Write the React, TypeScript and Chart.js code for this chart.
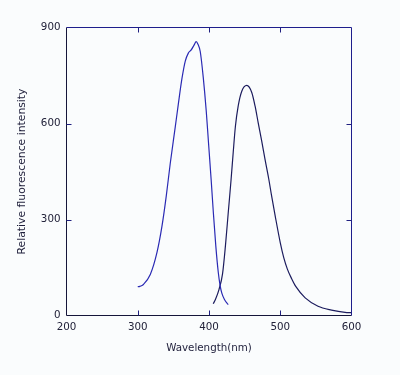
import React, { useEffect, useRef } from "react";
import { Chart, registerables } from "chart.js";

Chart.register(...registerables);

// Excitation spectrum (blue curve)
const excitationWavelengths = [300, 303, 308, 317.6, 327, 334, 340, 345.6, 352.7, 356.9, 362, 366.7, 371, 375, 379, 382, 384.5, 387.7, 391.9, 396.1, 399.3, 403, 406, 409.6, 413, 415.5, 418, 421.7, 427];
const excitationValues = [90, 91, 97, 128, 197, 279, 373, 475, 590, 660, 740, 795, 820, 830, 845, 856, 848, 825, 745, 640, 540, 425, 325, 216, 135, 95, 70, 50, 34];

// Emission spectrum (dark curve)
const emissionWavelengths = [406, 409, 414, 419, 423, 427, 431, 434, 437, 441, 446, 453, 460, 464.7, 469, 474, 478.7, 484, 488, 493, 500, 505, 510, 516, 522, 535, 553, 572, 591, 600];
const emissionValues = [37, 50, 81, 130, 216, 321, 425, 510, 590, 655, 701, 719, 697, 654, 603, 545, 487, 425, 372, 310, 228, 180, 145, 115, 90, 55, 29, 17, 10, 9];

const xTicks = [200, 300, 400, 500, 600];
const yTicks = [0, 300, 600, 900];

const xTitle = "Wavelength(nm)";
const yTitle = "Relative fluorescence intensity";

const frameAndTicks = {
  id: "frameAndTicks",
  beforeDraw(chart: any) {
    const { ctx, width, height } = chart;
    ctx.save();
    ctx.fillStyle = "#fafcfd";
    ctx.fillRect(0, 0, width, height);
    ctx.restore();
  },
  afterDatasetsDraw(chart: any) {
    const { ctx, chartArea, scales } = chart;
    const { left, right, top, bottom } = chartArea;
    const len = 5;
    ctx.save();
    ctx.lineWidth = 1;
    // left & bottom (dark)
    ctx.strokeStyle = "#15153a";
    ctx.beginPath();
    ctx.moveTo(left, top);
    ctx.lineTo(left, bottom);
    ctx.lineTo(right, bottom);
    ctx.stroke();
    // top & right (blue-ish)
    ctx.strokeStyle = "#1e1e8c";
    ctx.beginPath();
    ctx.moveTo(left, top);
    ctx.lineTo(right, top);
    ctx.lineTo(right, bottom);
    ctx.stroke();
    // inner tick marks
    ctx.strokeStyle = "#202080";
    ctx.beginPath();
    xTicks.slice(1, -1).forEach((v) => {
      const px = Math.round(scales.x.getPixelForValue(v)) + 0.5;
      ctx.moveTo(px, bottom);
      ctx.lineTo(px, bottom - len);
      ctx.moveTo(px, top);
      ctx.lineTo(px, top + len);
    });
    yTicks.slice(1, -1).forEach((v) => {
      const py = Math.round(scales.y.getPixelForValue(v)) + 0.5;
      ctx.moveTo(left, py);
      ctx.lineTo(left + len, py);
      ctx.moveTo(right, py);
      ctx.lineTo(right - len, py);
    });
    ctx.stroke();
    ctx.restore();
  },
};

export default function App() {
  const ref = useRef<HTMLCanvasElement | null>(null);

  useEffect(() => {
    if (!ref.current) return;
    const chart = new Chart(ref.current, {
      type: "line",
      data: {
        datasets: [
          {
            label: "Excitation",
            data: excitationWavelengths.map((x, i) => ({ x, y: excitationValues[i] })),
            borderColor: "#2a2ab4",
            borderWidth: 1.2,
            pointRadius: 0,
            fill: false,
            cubicInterpolationMode: "monotone",
          },
          {
            label: "Emission",
            data: emissionWavelengths.map((x, i) => ({ x, y: emissionValues[i] })),
            borderColor: "#1c1c5e",
            borderWidth: 1.2,
            pointRadius: 0,
            fill: false,
            cubicInterpolationMode: "monotone",
          },
        ],
      },
      options: {
        animation: false,
        responsive: false,
        layout: { padding: { top: 27.5, right: 48.5, left: 0, bottom: 0 } },
        plugins: { legend: { display: false }, tooltip: { enabled: false } },
        scales: {
          x: {
            type: "linear",
            min: 200,
            max: 600,
            afterFit: (s: any) => {
              s.height = 59.5;
            },
            afterBuildTicks: (s: any) => {
              s.ticks = xTicks.map((v) => ({ value: v }));
            },
            grid: { display: false, drawTicks: false },
            border: { display: false },
            ticks: {
              padding: 6,
              color: "#22223a",
              font: { family: "DejaVu Sans", size: 10.3 },
              maxRotation: 0,
              autoSkip: false,
            },
            title: {
              display: true,
              text: xTitle,
              color: "#1e1e3a",
              font: { family: "DejaVu Sans", size: 10.3 },
              padding: { top: 0, bottom: 20 },
            },
          },
          y: {
            type: "linear",
            min: 0,
            max: 900,
            afterFit: (s: any) => {
              s.width = 66.5;
            },
            afterBuildTicks: (s: any) => {
              s.ticks = yTicks.map((v) => ({ value: v }));
            },
            grid: { display: false, drawTicks: false },
            border: { display: false },
            ticks: {
              padding: 6,
              color: "#22223a",
              font: { family: "DejaVu Sans", size: 10.3 },
              autoSkip: false,
            },
            title: {
              display: true,
              text: yTitle,
              color: "#1e1e3a",
              font: { family: "DejaVu Sans", size: 10.8 },
              padding: { top: 16, bottom: 0 },
            },
          },
        },
      },
      plugins: [frameAndTicks],
    });
    return () => chart.destroy();
  }, []);

  return (
    <div style={{ position: "fixed", left: 0, top: 0, width: 400, height: 375 }}>
      <canvas ref={ref} width={400} height={375} style={{ display: "block" }} />
    </div>
  );
}
